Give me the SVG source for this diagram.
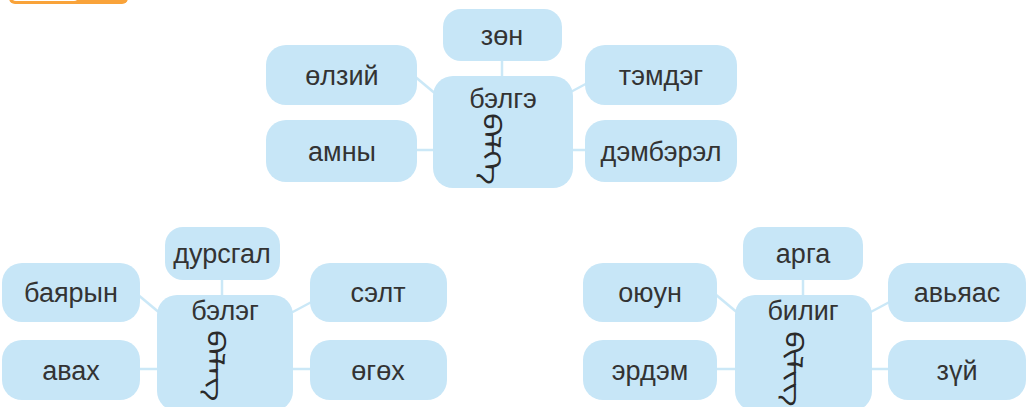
<svg xmlns="http://www.w3.org/2000/svg" width="1026" height="407" viewBox="0 0 1026 407">
<style>
.box{fill:#c7e6f7}
.con{stroke:#cbe8f7;stroke-width:2.5;fill:none}
.t{font-family:"Liberation Sans",Arial,sans-serif;font-size:27px;fill:#333;text-anchor:middle}
.mn{font-family:"Noto Sans Mongolian","Mongolian Baiti",sans-serif;font-size:34px;fill:#2a2a2a;writing-mode:vertical-lr}
</style>
<rect width="1026" height="407" fill="#fff"/>
<g id="tab">
<rect x="9" y="-20" width="119" height="24" rx="6" fill="#f9a33a"/>
<rect x="12" y="-20" width="66" height="21" rx="4" fill="#fff"/>
</g>
<g id="connectors">
<line class="con" x1="395" y1="60" x2="455" y2="110"/>
<line class="con" x1="550" y1="103" x2="610" y2="71"/>
<line class="con" x1="410" y1="150" x2="440" y2="150"/>
<line class="con" x1="565" y1="150" x2="595" y2="150"/>
<line class="con" x1="502" y1="55" x2="502" y2="80"/>
<line class="con" x1="119" y1="279" x2="179" y2="329"/>
<line class="con" x1="274" y1="322" x2="334" y2="290"/>
<line class="con" x1="135" y1="369" x2="165" y2="369"/>
<line class="con" x1="288" y1="369" x2="318" y2="369"/>
<line class="con" x1="222" y1="274" x2="222" y2="300"/>
<line class="con" x1="697" y1="279" x2="757" y2="329"/>
<line class="con" x1="852" y1="322" x2="912" y2="290"/>
<line class="con" x1="712" y1="369" x2="742" y2="369"/>
<line class="con" x1="867" y1="369" x2="897" y2="369"/>
<line class="con" x1="803" y1="274" x2="803" y2="300"/>
</g>
<g id="belge">
<rect class="box" x="433" y="76" width="140" height="112" rx="20"/>
<text class="t" x="503" y="108">бэлгэ</text>
<text class="mn" transform="translate(497,113) scale(0.72,1)" x="0" y="0">ᠪᠡᠯᠭᠡ</text>
</g>
<g id="zon"><rect class="box" x="443" y="9" width="119" height="52" rx="18"/><text class="t" x="502" y="45">зөн</text></g>
<g id="olziy"><rect class="box" x="266" y="45" width="151" height="60" rx="20"/><text class="t" x="342" y="85">өлзий</text></g>
<g id="amny"><rect class="box" x="266" y="120" width="151" height="62" rx="20"/><text class="t" x="342" y="161">амны</text></g>
<g id="temdeg"><rect class="box" x="585" y="45" width="152" height="60" rx="20"/><text class="t" x="661" y="85">тэмдэг</text></g>
<g id="dembrel"><rect class="box" x="585" y="120" width="152" height="62" rx="20"/><text class="t" x="661" y="161">дэмбэрэл</text></g>

<g id="beleg">
<rect class="box" x="157" y="295" width="136" height="116" rx="20"/>
<text class="t" x="225" y="320">бэлэг</text>
<text class="mn" transform="translate(221,330) scale(0.72,1)" x="0" y="0">ᠪᠡᠯᠡᠭ</text>
</g>
<g id="dursgal"><rect class="box" x="165" y="227" width="115" height="53" rx="18"/><text class="t" x="222" y="263">дурсгал</text></g>
<g id="bayaryn"><rect class="box" x="2" y="263" width="138" height="59" rx="20"/><text class="t" x="71" y="302">баярын</text></g>
<g id="avah"><rect class="box" x="2" y="340" width="138" height="60" rx="20"/><text class="t" x="71" y="380">авах</text></g>
<g id="selt"><rect class="box" x="310" y="263" width="137" height="59" rx="20"/><text class="t" x="378" y="302">сэлт</text></g>
<g id="ogoh"><rect class="box" x="310" y="340" width="137" height="60" rx="20"/><text class="t" x="378" y="380">өгөх</text></g>

<g id="bilig">
<rect class="box" x="735" y="295" width="137" height="116" rx="20"/>
<text class="t" x="803" y="320">билиг</text>
<text class="mn" transform="translate(799,331) scale(0.72,1)" x="0" y="0">ᠪᠢᠯᠢᠭ</text>
</g>
<g id="arga"><rect class="box" x="743" y="227" width="120" height="53" rx="18"/><text class="t" x="803" y="263">арга</text></g>
<g id="oyun"><rect class="box" x="583" y="263" width="134" height="59" rx="20"/><text class="t" x="650" y="302">оюун</text></g>
<g id="erdem"><rect class="box" x="583" y="340" width="134" height="60" rx="20"/><text class="t" x="650" y="380">эрдэм</text></g>
<g id="avyas"><rect class="box" x="888" y="263" width="138" height="59" rx="20"/><text class="t" x="957" y="302">авьяас</text></g>
<g id="zui"><rect class="box" x="888" y="340" width="138" height="60" rx="20"/><text class="t" x="957" y="380">зүй</text></g>
</svg>
